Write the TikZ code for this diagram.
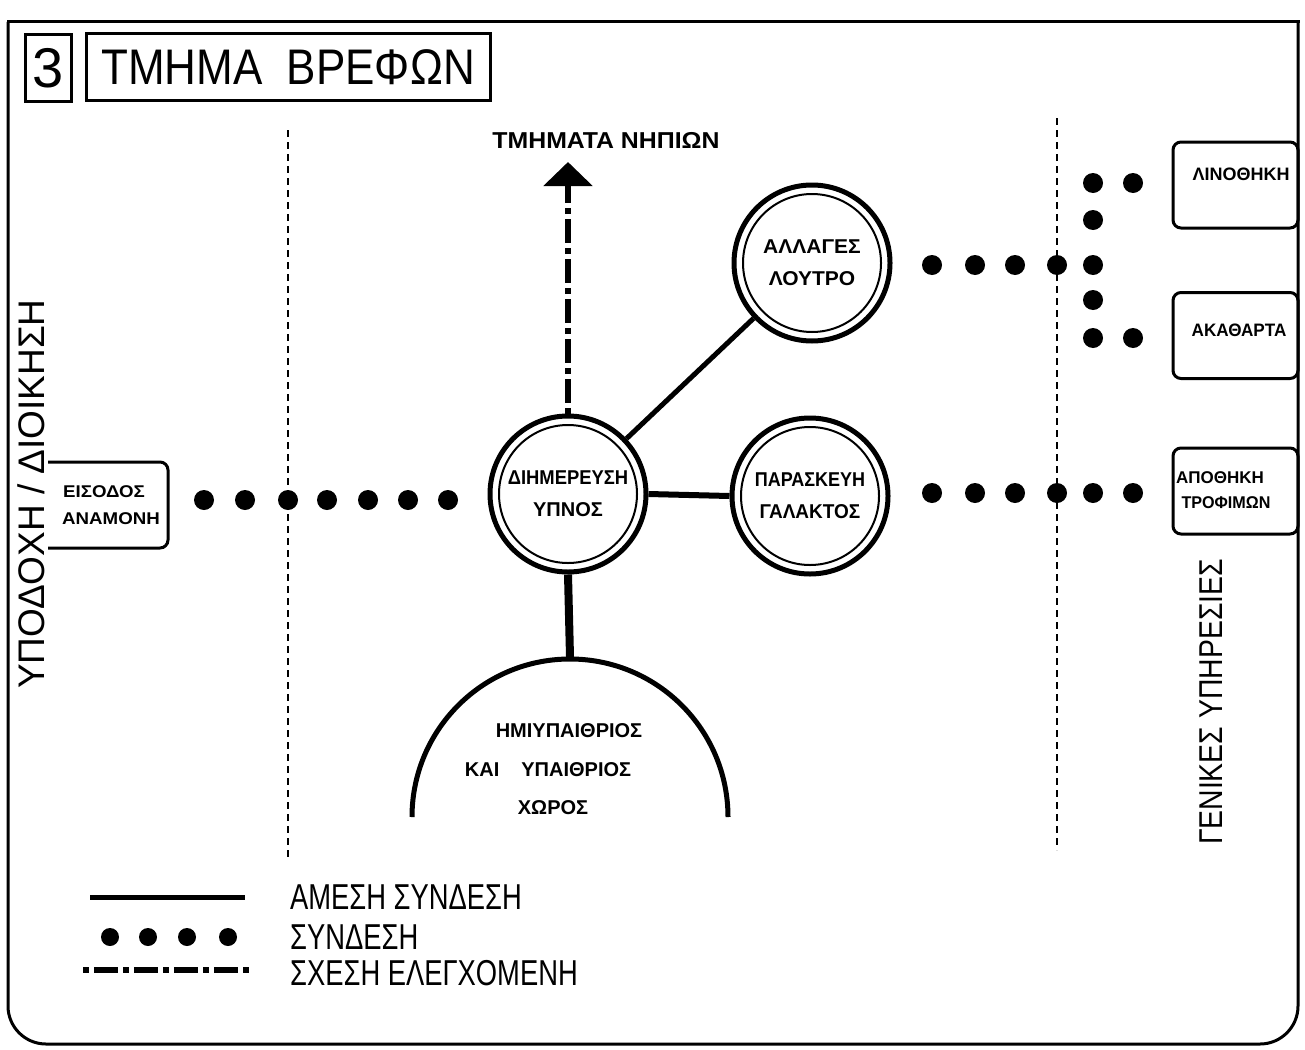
\documentclass[tikz,border=0pt]{standalone}
\usepackage{fontspec}
\setmainfont{Liberation Sans}
\usetikzlibrary{arrows.meta}
\newcommand\sq[2]{\scalebox{#1}[1]{#2}}
\begin{document}
\begin{tikzpicture}[x=1pt,y=-1pt,
  ink/.style={draw=black,line width=3pt},
  sep/.style={draw=black,line width=2.5pt,dash pattern=on 7pt off 5pt},
  dot/.style={circle,fill=black,minimum size=20pt,inner sep=0pt},
  ldot/.style={circle,fill=black,minimum size=18pt,inner sep=0pt},
  room/.style={circle,draw=black,line width=5pt,minimum size=156pt,inner sep=0pt,align=center,
     font=\bfseries\fontsize{20}{32}\selectfont,
     path picture={\draw[line width=2pt] (path picture bounding box.center) circle (69pt);}},
  rbox/.style={rectangle,draw=black,line width=3pt,rounded corners=8pt,minimum width=125pt,minimum height=86pt,inner sep=0pt},
  txt/.style={inner sep=0pt,align=center},
  btxt/.style={inner sep=0pt,align=center,font=\bfseries\fontsize{18}{18}\selectfont},
  direct/.style={draw=black,line width=6pt},
  ctrl/.style={draw=black,line width=6pt,dash pattern=on 6pt off 5pt on 24pt off 5pt},
  legend/.style={inner sep=0pt,anchor=west,font=\fontsize{36}{36}\selectfont},
]
\useasboundingbox (0,0) rectangle (1305,1049);
\fill[white] (0,0) rectangle (1305,1049);

% frame
\draw[line width=3pt,line cap=rect] (8,22) -- (1298,22);
\draw[line width=3pt,rounded corners=38pt] (1298,22) -- (1298,1044) -- (8,1044) -- (8,22);

% title
\node[ink,minimum width=46pt,minimum height=66pt,inner sep=0pt,font=\fontsize{56}{56}\selectfont] (num) at (48,68) {3};
\node[ink,minimum width=404pt,minimum height=67pt,inner sep=0pt,font=\fontsize{50}{50}\selectfont] (title) at (288,67) {\sq{0.88}{ΤΜΗΜΑ\ \ ΒΡΕΦΩΝ}};

% separators
\draw[sep] (288,130) -- (288,860);
\draw[sep] (1057,118) -- (1057,850);

% side texts
\node[txt,rotate=90,font=\fontsize{37}{37}\selectfont] (recep) at (31,494) {ΥΠΟΔΟΧΗ / ΔΙΟΙΚΗΣΗ};
\node[txt,rotate=90,font=\fontsize{33}{33}\selectfont] (gen) at (1211,702) {\sq{0.86}{ΓΕΝΙΚΕΣ ΥΠΗΡΕΣΙΕΣ}};

% rooms
\node[room] (dihm) at (568,494) {\sq{0.92}{ΔΙΗΜΕΡΕΥΣΗ}\\ΥΠΝΟΣ};
\node[room] (allag) at (812,263) {\sq{1.05}{ΑΛΛΑΓΕΣ}\\\sq{1.05}{ΛΟΥΤΡΟ}};
\node[room] (paras) at (810,496) {\sq{0.9}{ΠΑΡΑΣΚΕΥΗ}\\\sq{0.95}{ΓΑΛΑΚΤΟΣ}};

% entrance box (open on the left)
\coordinate (eis) at (168,505);
\draw[line width=3pt,rounded corners=8pt] (48,462) -- (168,462) -- (168,548) -- (48,548);
\node[btxt,font=\bfseries\fontsize{17}{17}\selectfont] (eis1) at (104,492) {\sq{1.1}{ΕΙΣΟΔΟΣ}};
\node[btxt,font=\bfseries\fontsize{17}{17}\selectfont] (eis2) at (111,519) {\sq{1.1}{ΑΝΑΜΟΝΗ}};

% right boxes
\node[rbox] (lino) at (1235.5,185) {};
\node[rbox] (akath) at (1235.5,335.5) {};
\node[rbox] (apoth) at (1235.5,491) {};
\node[btxt] (linot) at (1241,174) {\sq{1.0}{ΛΙΝΟΘΗΚΗ}};
\node[btxt] (akatht) at (1239,330) {\sq{0.95}{ΑΚΑΘΑΡΤΑ}};
\node[btxt,font=\bfseries\fontsize{17}{17}\selectfont] (apotht1) at (1220,478) {ΑΠΟΘΗΚΗ};
\node[btxt,font=\bfseries\fontsize{17}{17}\selectfont] (apotht2) at (1226,503) {\sq{0.95}{ΤΡΟΦΙΜΩΝ}};

% open-air space
\coordinate (open) at (570,657);
\draw[line width=5pt] (412,817) arc[start angle=180,end angle=0,radius=158pt];
\node[btxt,font=\bfseries\fontsize{20}{20}\selectfont] (oa1) at (569,731) {\sq{1.0}{ΗΜΙΥΠΑΙΘΡΙΟΣ}};
\node[btxt,font=\bfseries\fontsize{20}{20}\selectfont] (oa2) at (548,770) {\sq{1.0}{ΚΑΙ\hspace{22pt}ΥΠΑΙΘΡΙΟΣ}};
\node[btxt,font=\bfseries\fontsize{20}{20}\selectfont] (oa3) at (553,808) {\sq{1.0}{ΧΩΡΟΣ}};

% connectors
\draw[line width=5pt] (dihm) -- (allag);
\draw[direct] (dihm.east) -- (paras.west);
\draw[line width=8pt] (dihm.south) -- (open);

\coordinate (tip) at (568,162);
\draw[ctrl,-{Triangle[width=48pt,length=24pt]}] (dihm.north) -- (tip);
\node[txt,font=\bfseries\fontsize{23}{23}\selectfont] (nipia) at (606,140) {\sq{1.08}{ΤΜΗΜΑΤΑ ΝΗΠΙΩΝ}};

% dotted links
\foreach \x in {204,245,288,327,368,408,448} \node[dot] at (\x,500) {};
\foreach \x in {932,975,1015,1057,1093} \node[dot] at (\x,265) {};
\foreach \y in {183,220,300,338} \node[dot] at (1093,\y) {};
\foreach \y in {183,338} \node[dot] at (1133,\y) {};
\foreach \x in {932,975,1015,1057,1093,1133} \node[dot] at (\x,493) {};

% legend
\coordinate (la) at (90,897); \coordinate (lb) at (245,897);
\draw[line width=5pt] (la) -- (lb);
\foreach \x in {110,148,187,228} \node[ldot] at (\x,937) {};
\coordinate (lc) at (83,970); \coordinate (ld) at (250,970);
\draw[ctrl] (lc) -- (ld);
\node[legend] (leg1) at (290,897) {\sq{0.76}{ΑΜΕΣΗ ΣΥΝΔΕΣΗ}};
\node[legend] (leg2) at (290,937) {\sq{0.76}{ΣΥΝΔΕΣΗ}};
\node[legend] (leg3) at (290,973) {\sq{0.76}{ΣΧΕΣΗ ΕΛΕΓΧΟΜΕΝΗ}};
\end{tikzpicture}
\end{document}
